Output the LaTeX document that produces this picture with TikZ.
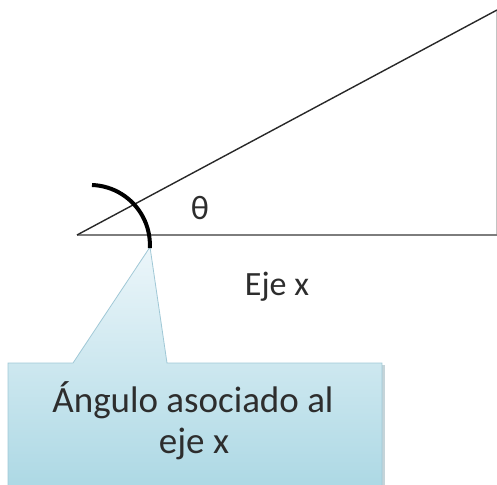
\documentclass[tikz,border=0pt]{standalone}
\usepackage{fontspec}
\setmainfont{Carlito}
\definecolor{axisc}{RGB}{125,125,125}
\definecolor{rayc}{RGB}{40,40,40}
\definecolor{sidec}{RGB}{195,195,195}
\definecolor{lblc}{RGB}{45,45,45}
\definecolor{ctop}{RGB}{236,246,250}
\definecolor{cbot}{RGB}{172,216,228}
\definecolor{cedge}{RGB}{160,200,214}
\definecolor{cshadow}{RGB}{140,170,180}
\begin{document}
\begin{tikzpicture}[x=1pt,y=-1pt,
  axisline/.style={draw=axisc, line width=2.6pt},
  rayline/.style={draw=rayc, line width=1.4pt},
  sideline/.style={draw=sidec, line width=1pt},
  anglearc/.style={draw=black, line width=4pt},
  lbl/.style={inner sep=0pt, text=lblc},
  calloutbox/.style={top color=ctop, bottom color=cbot, draw=cedge, line width=0.8pt}
]
\useasboundingbox (0,0) rectangle (497,484);
% coordinates
\coordinate (O) at (77,235);
\coordinate (R) at (497,235);
\coordinate (T) at (497,10);
\coordinate (Tv) at (496,10);
\coordinate (Rv) at (496,235);
\coordinate (arcA) at (92,185);
\coordinate (tip) at (150,247);
\coordinate (pl) at (73,363);
\coordinate (pr) at (167,363);
\coordinate (b1) at (8,363);
\coordinate (b2) at (382,363);
\coordinate (b3) at (382,490);
\coordinate (b4) at (8,490);
% callout shadow
\fill[cshadow, opacity=0.5] (10,365) rectangle (385,492);
% callout
\path[calloutbox] (b1) -- (pl) -- (tip) -- (pr) -- (b2) -- (b3) -- (b4) -- cycle;
% lines
\draw[sideline] (Tv) -- (Rv);
\draw[axisline] (O) -- (R);
\draw[rayline] (O) -- (T);
\draw[anglearc] (arcA) arc[start angle=88, end angle=-3, radius=60pt];
% labels
\node[lbl, font=\fontsize{34}{40}\selectfont] (theta) at (200,208) {θ};
\node[lbl, font=\fontsize{34}{40}\selectfont, anchor=base] (ejex) at (277,295) {Eje x};
\node[lbl, font=\fontsize{37}{41}\selectfont, anchor=base] (c1) at (193,412) {Ángulo asociado al};
\node[lbl, font=\fontsize{37}{41}\selectfont, anchor=base] (c2) at (194,453) {eje x};
\end{tikzpicture}
\end{document}
